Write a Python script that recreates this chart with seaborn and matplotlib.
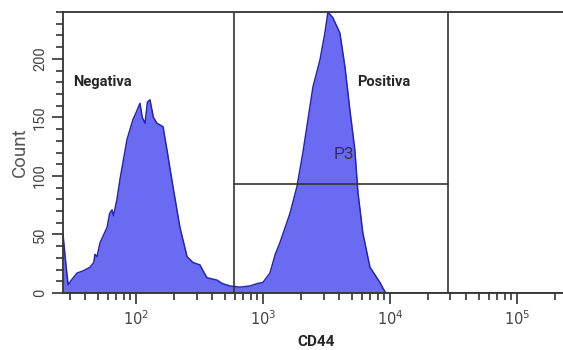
import numpy as np
import pandas as pd
import matplotlib
matplotlib.use('Agg')
import matplotlib.pyplot as plt
import seaborn as sns
from matplotlib.ticker import LogLocator, MultipleLocator, FixedLocator

sns.set_theme(style='ticks')
plt.rcParams['font.family'] = ['Roboto', 'DejaVu Sans']

# CD44 intensity (channel value) and event count along the histogram outline
cd44 = [26.6, 28.0, 29.2, 31.5, 34.3, 38.5, 43.4, 46.5, 47.5, 49.3, 52.1,
        59.2, 62.0, 64.7, 66.5, 70.8, 74.8, 84.9, 94.6, 101, 107.4, 112,
        117.8, 123, 128.8, 137, 146.2, 163.3, 175.4, 195.4, 221.8, 252.5,
        281.2, 319, 341, 362.4, 434.5, 480, 549.5, 659, 790.7, 900, 1000,
        1135, 1250, 1361, 1633, 1854, 2065, 2477, 2812, 3076, 3251, 3556,
        4036, 4426, 4842, 5297, 5598, 6124, 6966, 8337, 9141, 9500, 262144]
counts = [50, 25, 7, 12, 17, 19, 22, 26, 33, 31, 43,
          56, 68, 71, 66, 80, 97, 131, 148, 155, 162, 150,
          145, 163, 165, 150, 145, 142, 122, 91, 56, 31,
          26, 24, 18, 13, 11, 8, 6, 5, 6, 8, 9,
          17, 33, 43, 68, 91, 120, 176, 199, 222, 240, 235,
          222, 193, 156, 122, 86, 51, 22, 9, 1, 0, 0]

gate_low = 592
gate_high = 28660
p3_level = 93

df = pd.DataFrame({'CD44': cd44, 'Count': counts})

fig = plt.figure(figsize=(5.63, 3.5), dpi=100)
ax = fig.add_axes([63 / 563, 57 / 350, 507 / 563, 281 / 350])

ax.fill_between(df['CD44'], df['Count'], color='#6a6af2', lw=0)
sns.lineplot(data=df, x='CD44', y='Count', color='#2424b8', lw=1.1, ax=ax)

ax.set_xscale('log')
ax.set_xlim(26.6, 262144)
ax.set_ylim(0, 240)

# P3 gate
ax.axvline(gate_low, color='#333333', lw=1.2)
ax.axvline(gate_high, color='#333333', lw=1.2)
ax.plot([gate_low, gate_high], [p3_level, p3_level], color='#333333', lw=1.2)

ax.text(32, 180, 'Negativa', fontsize=10.5, fontweight='bold', va='center')
ax.text(5500, 180, 'Positiva', fontsize=10.5, fontweight='bold', va='center')
ax.text(4370, 118, 'P3', fontsize=12.5, color='#33334d', ha='center', va='center')

for s in ['left', 'bottom', 'top']:
    ax.spines[s].set_color('#333333')
    ax.spines[s].set_linewidth(1.3)
ax.spines['right'].set_visible(False)

ax.xaxis.set_major_locator(FixedLocator([1e2, 1e3, 1e4, 1e5]))
ax.xaxis.set_minor_locator(LogLocator(base=10, subs=np.arange(2, 10)))
ax.set_xticklabels([r'$10^2$', r'$10^3$', r'$10^4$', r'$10^5$'])
ax.yaxis.set_major_locator(MultipleLocator(50))
ax.yaxis.set_minor_locator(MultipleLocator(10))
ax.tick_params(axis='both', which='major', length=8, width=1.2, color='#333333',
               labelsize=10.5, labelcolor='#444444', direction='out')
ax.tick_params(axis='both', which='minor', length=5, width=1.2, color='#333333',
               direction='out')
plt.setp(ax.get_yticklabels(), rotation=90, va='center')

ax.set_xlabel('CD44', fontsize=11, fontweight='bold', labelpad=5)
ax.set_ylabel('Count', fontsize=13.5, color='#555555', labelpad=3)

fig.savefig('out.png', dpi=100)
